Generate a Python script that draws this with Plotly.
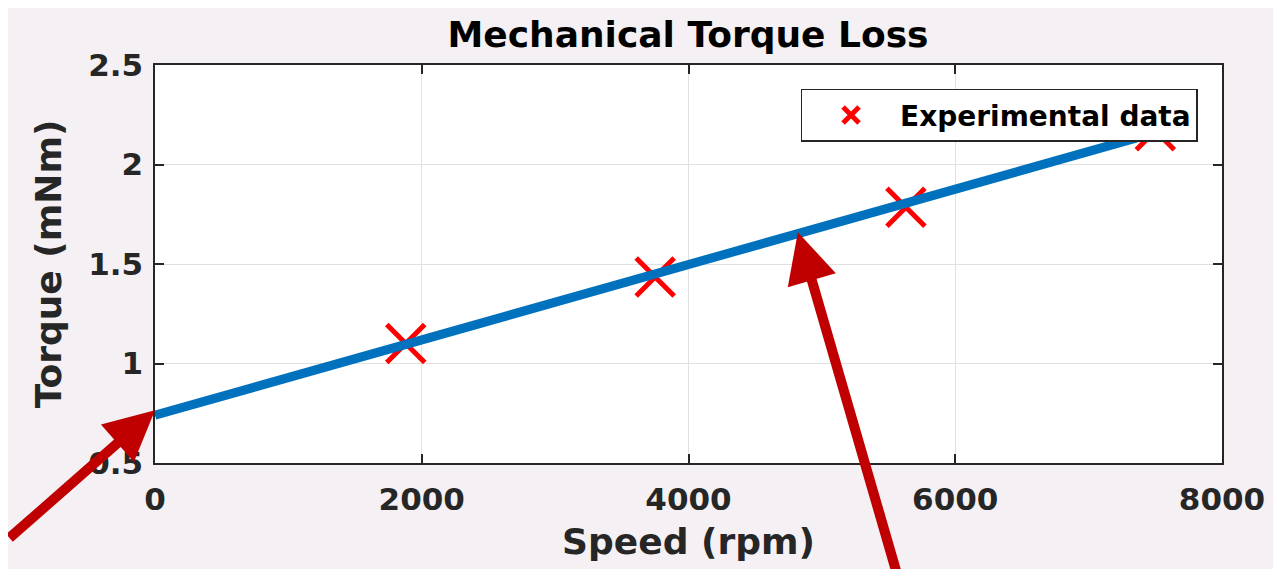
import plotly.graph_objects as go

# Data
speed_exp = [1880, 3750, 5630, 7500]
torque_exp = [1.10, 1.435, 1.785, 2.17]
speed_fit = [0, 7500]
torque_fit = [0.74, 2.16]

x_ticks = [0, 2000, 4000, 6000, 8000]
y_ticks = [0.5, 1, 1.5, 2, 2.5]
y_tick_labels = ["0.5", "1", "1.5", "2", "2.5"]

FONT = "DejaVu Sans"
AX = "#262626"
BG = "#f4f0f3"

fig = go.Figure()
fig.add_trace(go.Scatter(
    x=speed_exp, y=torque_exp, mode="markers", name="Experimental data",
    marker=dict(symbol="x-thin", size=38, line=dict(color="#ff0000", width=5), color="#ff0000"),
))
fig.add_trace(go.Scatter(
    x=speed_fit, y=torque_fit, mode="lines", showlegend=False,
    line=dict(color="#0072bd", width=9),
))

axis_common = dict(
    showline=True, linecolor=AX, linewidth=1.5, mirror="ticks",
    ticks="inside", ticklen=9, tickwidth=1.5, tickcolor=AX,
    showgrid=True, gridcolor="#e0e0e0", gridwidth=1, zeroline=False,
    tickfont=dict(family=FONT, size=31, color=AX, weight="bold"),
)
fig.update_xaxes(range=[0, 8000], tickvals=x_ticks, ticklabelstandoff=8,
                 title=dict(text="Speed (rpm)", font=dict(family=FONT, size=36, color=AX, weight="bold"), standoff=13),
                 **axis_common)
fig.update_yaxes(range=[0.5, 2.5], tickvals=y_ticks, ticktext=y_tick_labels, ticklabelstandoff=4,
                 title=dict(text="Torque (mNm)", font=dict(family=FONT, size=36, color=AX, weight="bold"), standoff=16),
                 **axis_common)

fig.update_layout(
    width=1281, height=569,
    paper_bgcolor=BG, plot_bgcolor="white",
    margin=dict(l=147, r=67, t=57, b=114),
    font=dict(family=FONT, color=AX),
    title=dict(text="Mechanical Torque Loss", x=(688 - 8) / 1281, xanchor="center",
               y=1 - (34 - 8) / 569, yanchor="middle",
               font=dict(family=FONT, size=36, color="#000", weight="bold")),
    legend=dict(x=0.605, y=0.94, xanchor="left", yanchor="top", bgcolor="white",
                bordercolor=AX, borderwidth=1.5, itemwidth=88,
                font=dict(family=FONT, size=28, color="#000", weight="bold")),
    showlegend=True,
)

fig.add_annotation(x=0, y=0.765, xref="x", yref="y", text="", showarrow=True,
                   ax=-175, ay=129, arrowcolor="#c00000", arrowwidth=10, arrowhead=2, arrowsize=1, standoff=0)
fig.add_annotation(x=4820, y=1.66, xref="x", yref="y", text="", showarrow=True,
                   ax=100, ay=360, arrowcolor="#c00000", arrowwidth=10, arrowhead=2, arrowsize=1, standoff=0)

fig.write_html("out.html")
